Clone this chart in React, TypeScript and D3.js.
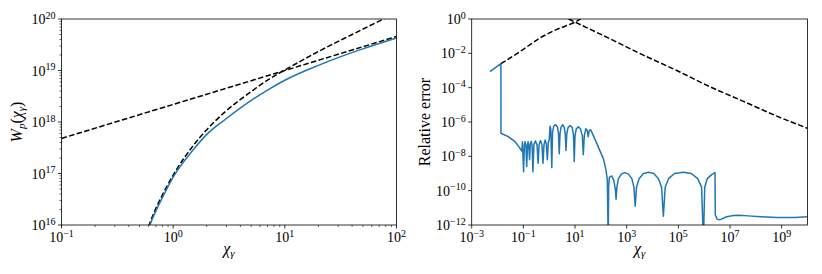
import React from 'react';
import * as d3 from 'd3';

// ---- left panel: W_p(chi) and its two asymptotes ----
const rateChi = [0.6, 0.62, 0.7, 0.8, 1, 1.5, 2, 3, 5, 7, 10, 20, 30, 50, 100];
const rateExact = [7.9e15, 1.0e16, 1.86e16, 3.39e16, 8.5e16, 2.82e17, 5.75e17, 1.17e18, 2.63e18, 4.17e18, 6.46e18, 1.26e19, 1.78e19, 2.63e19, 4.27e19];

const smallChi = [0.6, 0.7, 0.8, 1, 1.5, 2, 3, 5, 7, 10, 20, 40, 80];
const smallAsym = [9.3e15, 2.1e16, 3.8e16, 9.3e16, 3.4e17, 7.1e17, 1.66e18, 3.9e18, 6.5e18, 1.02e19, 2.34e19, 5.0e19, 1.05e20];

const largeChi = [0.1, 100];
const largeAsym = [4.8e17, 4.57e19];

// ---- right panel: relative error ----
const errChi = [
  5.1e-3, 1.35e-2, 1.36e-2, 2.6e-2, 4.8e-2, 7.1e-2, 8.7e-2, 9.2e-2,
  1.02e-1, 1.10e-1, 1.17e-1, 1.26e-1, 1.35e-1, 1.45e-1, 1.53e-1, 1.62e-1,
  1.74e-1, 1.86e-1, 2.02e-1, 2.19e-1, 2.34e-1, 2.57e-1, 2.95e-1, 3.39e-1,
  3.72e-1, 4.07e-1, 4.62e-1, 5.25e-1, 5.75e-1, 6.31e-1, 7.0e-1, 7.76e-1,
  8.51e-1, 9.2e-1, 1.0, 1.08, 1.15, 1.26, 1.35, 1.51, 1.78, 2.09, 2.29,
  2.45, 2.63, 2.88, 3.31, 3.80, 4.17, 4.47, 4.79, 5.37, 6.46, 7.76, 8.71,
  9.33, 10.0, 11.2, 13.5, 16.2, 19.1, 20.9, 22.9, 26.3, 29.5, 32.4, 35.5,
  40.7, 63.1, 93.3, 126, 158, 178, 193, 200, 214, 263, 316, 363, 389,
  417, 479, 631, 851, 1148, 1585, 1905, 2138, 2399, 3020, 4467, 7079,
  1.12e4, 1.70e4, 2.24e4, 2.63e4, 3.09e4, 4.17e4, 7.08e4, 1.58e5, 3.16e5,
  5.62e5, 7.94e5, 9.33e5, 1.05e6, 1.32e6, 2.0e6, 2.63e6, 2.69e6, 3.16e6,
  3.98e6, 7.41e6, 1.35e7, 2.24e7, 5.0e7, 1.58e8, 6.31e8, 3.16e9, 1e10,
];
const errVal = [
  8.5e-4, 2.5e-3, 2.2e-7, 1.4e-7, 7.1e-8, 3.2e-8, 2.0e-8, 7.1e-8,
  1.26e-9, 5.0e-8, 7.1e-8, 4.0e-8, 2.5e-9, 5.0e-8, 7.1e-8, 4.0e-8,
  6.3e-9, 5.0e-8, 7.6e-8, 4.0e-8, 1.26e-9, 5.0e-8, 7.9e-8, 4.5e-8,
  4.0e-9, 5.0e-8, 8.3e-8, 4.5e-8, 4.0e-9, 5.0e-8, 8.9e-8, 5.0e-8,
  6.3e-9, 6.3e-8, 8.9e-8, 5.6e-7, 4.0e-7, 2.2e-9, 2.5e-7, 6.0e-7, 6.9e-7, 5.0e-7, 2.2e-7,
  1.4e-8, 2.2e-7, 5.0e-7, 6.9e-7, 5.0e-7, 2.2e-7, 2.2e-8, 2.0e-7, 4.7e-7, 6.3e-7, 4.7e-7, 1.8e-7,
  5.0e-9, 1.6e-7, 4.0e-7, 5.2e-7, 4.0e-7, 1.6e-7, 1.26e-8, 1.6e-7, 4.0e-7, 3.2e-7, 1.4e-7, 3.2e-7,
  3.5e-7, 7.9e-8, 2.0e-8, 7.1e-9, 1.6e-9, 4.2e-10, 1e-13, 1.6e-10, 6.0e-10, 7.2e-10, 4.0e-10, 1.26e-10, 3.2e-11,
  1.6e-10, 5.0e-10, 9.5e-10, 1.12e-9, 9.5e-10, 5.0e-10, 1.6e-10, 1.26e-11, 1.6e-10, 5.0e-10, 1.0e-9, 1.17e-9,
  1.0e-9, 5.0e-10, 1.6e-10, 3.2e-12, 1.6e-10, 5.0e-10, 1.0e-9, 1.17e-9, 1.0e-9,
  5.0e-10, 1.6e-10, 1e-13, 1.6e-10, 5.0e-10, 8.9e-10, 1.12e-9, 4.0e-12, 2.2e-12,
  2.0e-12, 3.0e-12, 3.6e-12, 3.7e-12, 3.4e-12, 3.0e-12, 2.7e-12, 2.75e-12, 3.0e-12,
];

const riseChi = [1.35e-2, 7.4e-2, 0.44, 2.0, 10, 16.6];
const riseVal = [2.5e-3, 1.26e-2, 7.8e-2, 0.25, 0.66, 1.0];

const fallChi = [5.6, 10, 224, 4.4e3, 8.7e4, 1.7e6, 3.3e7, 6.5e8, 1e10];
const fallVal = [1.0, 0.66, 7.1e-2, 7.9e-3, 1.0e-3, 1.12e-4, 1.6e-5, 2.2e-6, 4.3e-7];

// tick exponents
const leftXExp = [-1, 0, 1, 2];
const leftYExp = [16, 17, 18, 19, 20];
const rightXExp = [-3, -1, 1, 3, 5, 7, 9];
const rightYExp = [0, -2, -4, -6, -8, -10, -12];

const FONT = '"Liberation Serif", "DejaVu Serif", serif';
const BLUE = '#1f77b4';
const DASH = '5.5 2.4';

type Series = { xs: number[]; ys: number[]; color: string; dash?: string; smooth?: boolean };

const zip = (a: number[], b: number[]) => a.map((v, i) => [v, b[i]] as [number, number]);

const sup = (e: number) => (e < 0 ? '\u2212' + Math.abs(e) : String(e));

function Panel(props: {
  id: string;
  left: number; right: number; top: number; bottom: number;
  xDomain: [number, number]; yDomain: [number, number];
  xExp: number[]; yExp: number[];
  minor: boolean;
  series: Series[];
  yLabel: React.ReactNode; yLabelX: number;
}) {
  const { id, left, right, top, bottom, xDomain, yDomain, xExp, yExp, minor, series } = props;
  const x = d3.scaleLog().domain(xDomain).range([left, right]);
  const y = d3.scaleLog().domain(yDomain).range([bottom, top]);
  const straight = d3.line<[number, number]>().x(d => x(d[0])).y(d => y(d[1]));
  const smooth = d3.line<[number, number]>().x(d => x(d[0])).y(d => y(d[1])).curve(d3.curveMonotoneX);

  const isMajor = (v: number) => Math.abs(Math.log10(v) - Math.round(Math.log10(v))) < 1e-9;
  const xMinor = minor ? x.ticks().filter(v => !isMajor(v)) : [];
  const yMinor = minor ? y.ticks().filter(v => !isMajor(v)) : [];

  return (
    <g>
      <defs>
        <clipPath id={id}>
          <rect x={left} y={top} width={right - left} height={bottom - top} />
        </clipPath>
      </defs>
      <g clipPath={`url(#${id})`}>
        {series.map((s, i) => (
          <path key={i} d={(s.smooth ? smooth : straight)(zip(s.xs, s.ys)) || ''} fill="none" stroke={s.color}
            strokeWidth={1.5} strokeDasharray={s.dash} strokeLinejoin="round" />
        ))}
      </g>
      <rect x={left} y={top} width={right - left} height={bottom - top} fill="none" stroke="#000" strokeWidth={0.8} />
      {xMinor.map((v, i) => (
        <line key={'xm' + i} x1={x(v)} x2={x(v)} y1={bottom} y2={bottom + 2} stroke="#000" strokeWidth={0.6} />
      ))}
      {yMinor.map((v, i) => (
        <line key={'ym' + i} x1={left - 2} x2={left} y1={y(v)} y2={y(v)} stroke="#000" strokeWidth={0.6} />
      ))}
      {xExp.map(e => (
        <g key={'xt' + e}>
          <line x1={x(10 ** e)} x2={x(10 ** e)} y1={bottom} y2={bottom + 3.5} stroke="#000" strokeWidth={0.8} />
          <text x={x(10 ** e)} y={bottom + 17} textAnchor="middle" fontSize={14} fontFamily={FONT} fill="#000">
            10<tspan dy={-5.5} fontSize={10}>{sup(e)}</tspan>
          </text>
        </g>
      ))}
      {yExp.map(e => (
        <g key={'yt' + e}>
          <line x1={left - 3.5} x2={left} y1={y(10 ** e)} y2={y(10 ** e)} stroke="#000" strokeWidth={0.8} />
          <text x={left - 6} y={y(10 ** e) + 5} textAnchor="end" fontSize={14} fontFamily={FONT} fill="#000">
            10<tspan dy={-5.5} fontSize={10}>{sup(e)}</tspan>
          </text>
        </g>
      ))}
      <text x={(left + right) / 2} y={bottom + 29} textAnchor="middle" fontSize={16} fontFamily={FONT} fill="#000">
        <tspan fontStyle="italic">χ</tspan>
        <tspan fontStyle="italic" fontSize={11} dy={3}>γ</tspan>
      </text>
      <g transform={`translate(${props.yLabelX},${(top + bottom) / 2}) rotate(-90)`}>
        {props.yLabel}
      </g>
    </g>
  );
}

export default function App() {
  return (
    <svg width={822} height={274} viewBox="0 0 822 274"
      style={{ position: 'absolute', left: 0, top: 0, background: '#fff' }}>
      <Panel
        id="clipL"
        left={61.5} right={396.5} top={19} bottom={225}
        xDomain={[0.1, 100]} yDomain={[1e16, 1e20]}
        xExp={leftXExp} yExp={leftYExp} minor
        series={[
          { xs: largeChi, ys: largeAsym, color: '#000', dash: DASH },
          { xs: smallChi, ys: smallAsym, color: '#000', dash: DASH, smooth: true },
          { xs: rateChi, ys: rateExact, color: BLUE, smooth: true },
        ]}
        yLabelX={22}
        yLabel={
          <text textAnchor="middle" fontSize={16} fontFamily={FONT} fill="#000">
            <tspan fontStyle="italic">W</tspan>
            <tspan fontStyle="italic" fontSize={11} dy={3}>p</tspan>
            <tspan dy={-3}>(</tspan>
            <tspan fontStyle="italic">χ</tspan>
            <tspan fontStyle="italic" fontSize={11} dy={3}>γ</tspan>
            <tspan dy={-3}>)</tspan>
          </text>
        }
      />
      <Panel
        id="clipR"
        left={471.7} right={807.5} top={19} bottom={225}
        xDomain={[1e-3, 1e10]} yDomain={[1e-12, 1]}
        xExp={rightXExp} yExp={rightYExp} minor={false}
        series={[
          { xs: riseChi, ys: riseVal, color: '#000', dash: DASH, smooth: true },
          { xs: fallChi, ys: fallVal, color: '#000', dash: DASH, smooth: true },
          { xs: errChi, ys: errVal, color: BLUE },
        ]}
        yLabelX={430}
        yLabel={
          <text textAnchor="middle" fontSize={16} fontFamily={FONT} fill="#000">
            Relative error
          </text>
        }
      />
    </svg>
  );
}
